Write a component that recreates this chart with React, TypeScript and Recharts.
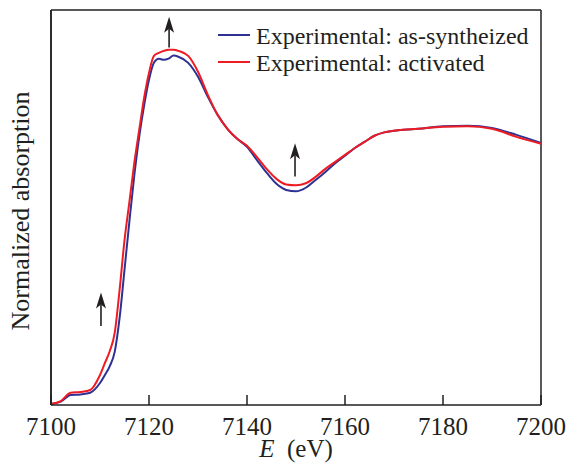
import { Legend, Line, LineChart, ReferenceLine, XAxis, YAxis } from 'recharts';

const energy = [
  7100, 7102, 7104, 7106, 7108, 7110, 7111, 7112, 7113, 7114, 7115, 7116, 7117, 7118, 7119, 7120,
  7121, 7122, 7123, 7124, 7125, 7126, 7128, 7130, 7132, 7134, 7136, 7138, 7140, 7142, 7144, 7146,
  7148, 7150, 7152, 7154, 7156, 7158, 7160, 7162, 7164, 7166, 7168, 7170, 7175, 7180, 7185, 7190,
  7195, 7200,
];

const asSynthesized = [
  0.004, 0.012, 0.036, 0.038, 0.044, 0.079, 0.108, 0.14, 0.191, 0.313, 0.486, 0.66, 0.825, 0.964, 1.076, 1.169,
  1.23, 1.245, 1.241, 1.245, 1.256, 1.252, 1.23, 1.18, 1.108, 1.043, 0.993, 0.957, 0.928, 0.881, 0.835, 0.795,
  0.773, 0.768, 0.781, 0.809, 0.838, 0.869, 0.896, 0.924, 0.946, 0.968, 0.98, 0.986, 0.993, 1.002, 1.004, 0.996,
  0.971, 0.942,
];

const activated = [
  0.004, 0.014, 0.044, 0.047, 0.054, 0.108, 0.151, 0.194, 0.259, 0.414, 0.592, 0.73, 0.87, 0.989, 1.104, 1.194,
  1.255, 1.266, 1.273, 1.277, 1.277, 1.273, 1.255, 1.198, 1.115, 1.043, 0.993, 0.957, 0.932, 0.892, 0.849, 0.813,
  0.793, 0.79, 0.797, 0.82, 0.849, 0.874, 0.899, 0.924, 0.946, 0.968, 0.98, 0.986, 0.993, 1.0, 1.002, 0.993,
  0.964, 0.939,
];

const xTicks = [7100, 7120, 7140, 7160, 7180, 7200];
const xDomain = [7100, 7200];
const yDomain = [0, 1.42];

const seriesNames = ['Experimental: as-syntheized', 'Experimental: activated'];

// arrows: energy, tail value, tip value
const arrows = [
  { e: 7110.2, from: 0.284, to: 0.404 },
  { e: 7124.1, from: 1.285, to: 1.396 },
  { e: 7149.8, from: 0.821, to: 0.941 },
];

const BLUE = '#2e3192';
const RED = '#ed1c24';
const INK = '#231f20';
const FONT = '"Liberation Serif", "Times New Roman", serif';

const rows = energy.map((e, i) => ({ e, blue: asSynthesized[i], red: activated[i] }));

function ArrowShape(props: any) {
  const { x1, y1, x2, y2 } = props;
  if ([x1, y1, x2, y2].some((v) => typeof v !== 'number')) return null;
  return (
    <g>
      <line x1={x1} y1={y1} x2={x2} y2={y2 + 12} stroke={INK} strokeWidth={1.6} />
      <polygon points={`${x2},${y2} ${x2 - 5},${y2 + 16} ${x2},${y2 + 12} ${x2 + 5},${y2 + 16}`} fill={INK} />
    </g>
  );
}

// inward tick mark plus the number under the axis (y arrives 2px below the axis line)
function EnergyTick(props: any) {
  const { x, y, payload } = props;
  return (
    <g>
      <line x1={x} x2={x} y1={y - 2} y2={y - 12} stroke={INK} strokeWidth={1.5} />
      <text x={x} y={y + 28} textAnchor="middle" fontFamily={FONT} fontSize={25} fill={INK}>
        {payload.value}
      </text>
    </g>
  );
}

function LegendBox() {
  const colors = [BLUE, RED];
  return (
    <div style={{ fontFamily: FONT, fontSize: 24, color: INK }}>
      {seriesNames.map((name, i) => (
        <div key={name} style={{ display: 'flex', alignItems: 'center', height: 27, lineHeight: '27px' }}>
          <div style={{ width: 32, height: 2, background: colors[i], marginRight: 6, position: 'relative', top: -2 }} />
          <span style={{ whiteSpace: 'nowrap' }}>{name}</span>
        </div>
      ))}
    </div>
  );
}

export default function App() {
  return (
    <div style={{ position: 'absolute', left: 0, top: 0, width: 571, height: 469, background: '#fff' }}>
      <LineChart width={571} height={469} data={rows} margin={{ top: 10, right: 30, bottom: 34, left: 50 }}>
        <XAxis
          dataKey="e"
          type="number"
          domain={xDomain}
          ticks={xTicks}
          height={30}
          tickSize={0}
          tickLine={false}
          tick={<EnergyTick />}
          axisLine={{ stroke: INK, strokeWidth: 1.5 }}
        />
        <YAxis type="number" domain={yDomain} width={1} tick={false} axisLine={{ stroke: INK, strokeWidth: 1.5 }} />
        {/* frame */}
        <ReferenceLine x={xDomain[0]} stroke={INK} strokeWidth={1.5} />
        <ReferenceLine x={xDomain[1]} stroke={INK} strokeWidth={1.5} />
        <ReferenceLine y={yDomain[1]} stroke={INK} strokeWidth={1.5} />
        <Legend
          layout="horizontal"
          verticalAlign="middle"
          align="center"
          wrapperStyle={{ left: 218, top: 23, width: 330 }}
          content={() => <LegendBox />}
        />
        {arrows.map((a) => (
          <ReferenceLine
            key={a.e}
            segment={[{ x: a.e, y: a.from }, { x: a.e, y: a.to }]}
            shape={(p: any) => <ArrowShape {...p} />}
          />
        ))}
        <Line dataKey="blue" name={seriesNames[0]} type="monotone" stroke={BLUE} strokeWidth={2} dot={false} isAnimationActive={false} />
        <Line dataKey="red" name={seriesNames[1]} type="monotone" stroke={RED} strokeWidth={2} dot={false} isAnimationActive={false} />
      </LineChart>
      {/* axis titles */}
      <div
        style={{
          position: 'absolute',
          left: 21 - 150,
          top: 211 - 13,
          width: 300,
          height: 26,
          lineHeight: '26px',
          textAlign: 'center',
          transform: 'rotate(-90deg)',
          fontFamily: FONT,
          fontSize: 26,
          color: INK,
          whiteSpace: 'nowrap',
        }}
      >
        Normalized absorption
      </div>
      <div
        style={{
          position: 'absolute',
          left: 196,
          top: 436,
          width: 200,
          height: 25,
          lineHeight: '25px',
          textAlign: 'center',
          fontFamily: FONT,
          fontSize: 25,
          color: INK,
          whiteSpace: 'pre',
        }}
      >
        <i>E</i>{'  '}(eV)
      </div>
    </div>
  );
}
